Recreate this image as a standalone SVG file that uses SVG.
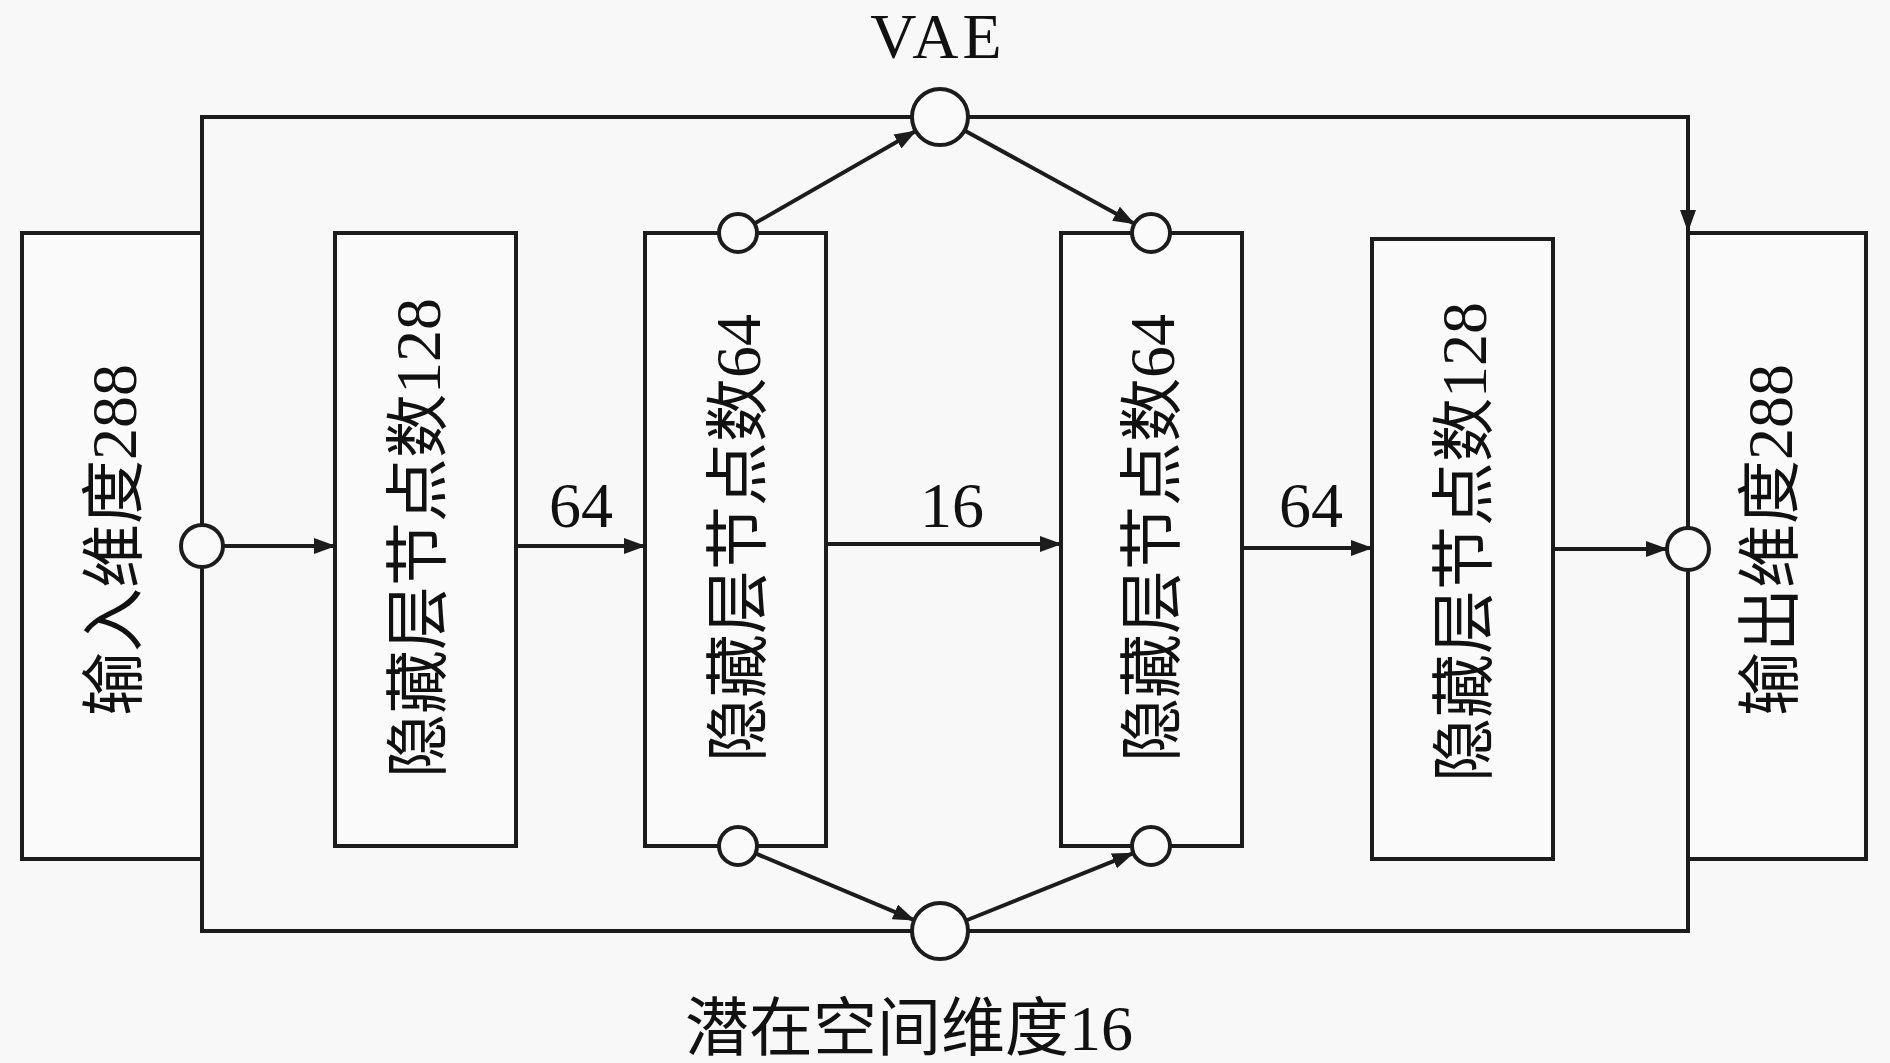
<svg xmlns="http://www.w3.org/2000/svg" width="1890" height="1063" viewBox="0 0 1890 1063">
<style>
.box{fill:#fafafa;stroke:#1c1c1c;stroke-width:4}
.ln{fill:none;stroke:#1c1c1c;stroke-width:4}
.ar{fill:none;stroke:#1c1c1c;stroke-width:4;marker-end:url(#ah)}
.cir{fill:#fafafa;stroke:#1c1c1c;stroke-width:4}
.lbl{font-family:"Liberation Serif","Noto Sans CJK SC",serif;font-size:64px;fill:#111}
.vt{font-family:"Liberation Serif","Noto Sans CJK SC",serif;font-size:64px;fill:#111;text-anchor:middle;dominant-baseline:central}
</style>
<defs>
<marker id="ah" markerUnits="userSpaceOnUse" markerWidth="24" markerHeight="18" refX="21" refY="8" orient="auto">
<path d="M0,0 L22,8 L0,16 Z" fill="#1c1c1c"/>
</marker>
</defs>
<rect width="1890" height="1063" fill="#f8f8f8"/>

<g id="input">
<rect class="box" x="22" y="233" width="180" height="626"/>
<text class="vt" transform="translate(114,540) rotate(-90)">输入维度288</text>
</g>
<g id="hidden1">
<rect class="box" x="335" y="233" width="181" height="613"/>
<text class="vt" transform="translate(418,538) rotate(-90)">隐藏层节点数128</text>
</g>
<g id="hidden2">
<rect class="box" x="645" y="233" width="181" height="613"/>
<text class="vt" transform="translate(738,538) rotate(-90)">隐藏层节点数64</text>
</g>
<g id="hidden3">
<rect class="box" x="1061" y="233" width="181" height="613"/>
<text class="vt" transform="translate(1152,538) rotate(-90)">隐藏层节点数64</text>
</g>
<g id="hidden4">
<rect class="box" x="1372" y="239" width="181" height="620"/>
<text class="vt" transform="translate(1464,542) rotate(-90)">隐藏层节点数128</text>
</g>
<g id="output">
<rect class="box" x="1688" y="233" width="178" height="626"/>
<text class="vt" transform="translate(1770,540) rotate(-90)">输出维度288</text>
</g>

<g id="connectors">
<polyline class="ln" points="202,233 202,117 1688,117 1688,233"/>
<path class="ar" d="M1688,180 L1688,231"/>
<polyline class="ln" points="202,233 202,931 1688,931 1688,233"/>
<path class="ar" d="M223,546 L335,546"/>
<path class="ar" d="M516,546 L645,546"/>
<path class="ar" d="M826,544 L1061,544"/>
<path class="ar" d="M1242,548 L1372,548"/>
<path class="ar" d="M1553,549 L1667,549"/>
<path class="ar" d="M754.5,223.5 L915.7,131"/>
<path class="ar" d="M964.5,130.5 L1134.4,223.8"/>
<path class="ar" d="M755.5,853.4 L914.2,920.1"/>
<path class="ar" d="M966,920.5 L1133.4,853.1"/>
</g>

<g id="junctions">
<circle class="cir" cx="202" cy="546" r="21"/>
<circle class="cir" cx="1688" cy="549" r="21"/>
<circle class="cir" cx="738" cy="233" r="19"/>
<circle class="cir" cx="1151" cy="233" r="19"/>
<circle class="cir" cx="738" cy="846" r="19"/>
<circle class="cir" cx="1151" cy="846" r="19"/>
<circle id="vae" class="cir" cx="940" cy="117" r="28"/>
<circle id="latent" class="cir" cx="940" cy="931" r="28"/>
</g>

<g id="labels">
<text class="lbl" x="938" y="58" text-anchor="middle" font-size="68" letter-spacing="4">VAE</text>
<text class="lbl" x="581" y="527" text-anchor="middle">64</text>
<text class="lbl" x="952" y="527" text-anchor="middle">16</text>
<text class="lbl" x="1311" y="527" text-anchor="middle">64</text>
<text class="lbl" x="909" y="1050" text-anchor="middle">潜在空间维度16</text>
</g>
</svg>
